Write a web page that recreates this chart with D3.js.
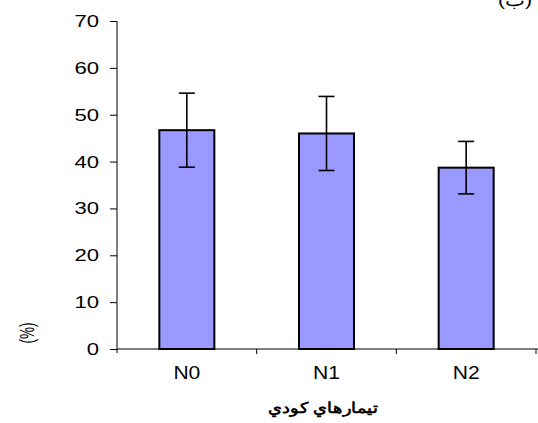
<!DOCTYPE html>
<html>
<head>
<meta charset="utf-8">
<script src="https://cdn.jsdelivr.net/npm/d3@7"></script>
<style>
  body { margin: 0; background: #fff; }
  text { font-family: "Liberation Sans", Arial, sans-serif; }
</style>
</head>
<body>
<script>
// data
const treatments = ["N0", "N1", "N2"];
const means = [46.7, 46.0, 38.7];
const errors = [7.9, 7.9, 5.6];
const yTicks = [0, 10, 20, 30, 40, 50, 60, 70];

const svg = d3.select("body").append("svg")
    .attr("width", 538).attr("height", 423);

const padL = 117, padR = 536, padT = 21, padB = 349;

const x = d3.scaleBand().domain(treatments).range([padL, padR]).paddingInner(0).paddingOuter(0);
const y = d3.scaleLinear().domain([0, 70]).range([padB, padT]);

const rows = treatments.map((t, i) => ({ t: t, m: means[i], e: errors[i] }));
const barW = 55;

// the original picture is stretched sideways, so widen the glyphs
function stretch(sel, k) {
    sel.each(function() {
        const w = this.getComputedTextLength();
        d3.select(this).attr("textLength", w * k).attr("lengthAdjust", "spacingAndGlyphs");
    });
}

// bars
svg.selectAll("rect.bar").data(rows).enter().append("rect")
    .attr("class", "bar")
    .attr("x", d => x(d.t) + x.bandwidth() / 2 - barW / 2)
    .attr("y", d => y(d.m))
    .attr("width", barW)
    .attr("height", d => y(0) - y(d.m))
    .style("fill", "#9999ff")
    .style("stroke", "#000")
    .style("stroke-width", 2);

// error bars
const eb = svg.selectAll("g.err").data(rows).enter().append("g")
    .attr("transform", d => "translate(" + (x(d.t) + x.bandwidth() / 2) + ",0)");
eb.append("line")
    .attr("y1", d => y(d.m + d.e)).attr("y2", d => y(d.m - d.e))
    .style("stroke", "#000").style("stroke-width", 1.6);
eb.append("line")
    .attr("x1", -8).attr("x2", 8)
    .attr("y1", d => y(d.m + d.e)).attr("y2", d => y(d.m + d.e))
    .style("stroke", "#000").style("stroke-width", 1.6);
eb.append("line")
    .attr("x1", -8).attr("x2", 8)
    .attr("y1", d => y(d.m - d.e)).attr("y2", d => y(d.m - d.e))
    .style("stroke", "#000").style("stroke-width", 1.6);

// y axis
const yAxis = svg.append("g")
    .attr("transform", "translate(" + padL + ",0)")
    .call(d3.axisLeft(y).tickValues(yTicks).tickSize(7).tickPadding(11));
yAxis.select(".domain").attr("d", "M0," + padT + "V" + (padB + 4));
yAxis.selectAll("text").style("font-size", "17px").style("fill", "#000");
stretch(yAxis.selectAll("text"), 1.3);

// x axis
const xAxis = svg.append("g")
    .attr("transform", "translate(0," + padB + ")")
    .call(d3.axisBottom(x).tickSize(0).tickPadding(17));
xAxis.select(".domain").attr("d", "M" + padL + ",0H538");
xAxis.selectAll("text").style("font-size", "18px").style("fill", "#000");
stretch(xAxis.selectAll("text"), 1.17);
xAxis.selectAll("line.sep").data(treatments).enter().append("line")
    .attr("class", "sep")
    .attr("x1", d => x(d) + x.bandwidth()).attr("x2", d => x(d) + x.bandwidth())
    .attr("y1", 0).attr("y2", 5)
    .style("stroke", "#000");

// titles
const xt = svg.append("text")
    .attr("x", 323).attr("y", 413)
    .attr("text-anchor", "middle")
    .style("font-size", "15px").style("font-weight", "bold")
    .text("تيمارهاي كودي");
xt.attr("textLength", 110).attr("lengthAdjust", "spacingAndGlyphs");

svg.append("text")
    .attr("transform", "translate(27,333) scale(1.55,1) rotate(-90)")
    .attr("text-anchor", "middle")
    .attr("dy", "0.35em")
    .style("font-size", "13.5px")
    .text("(%)");

const tag = svg.append("text")
    .attr("x", 515).attr("y", 6)
    .attr("text-anchor", "middle")
    .style("font-size", "16px")
    .text("(ب)");
tag.attr("textLength", 34).attr("lengthAdjust", "spacingAndGlyphs");
</script>
</body>
</html>
